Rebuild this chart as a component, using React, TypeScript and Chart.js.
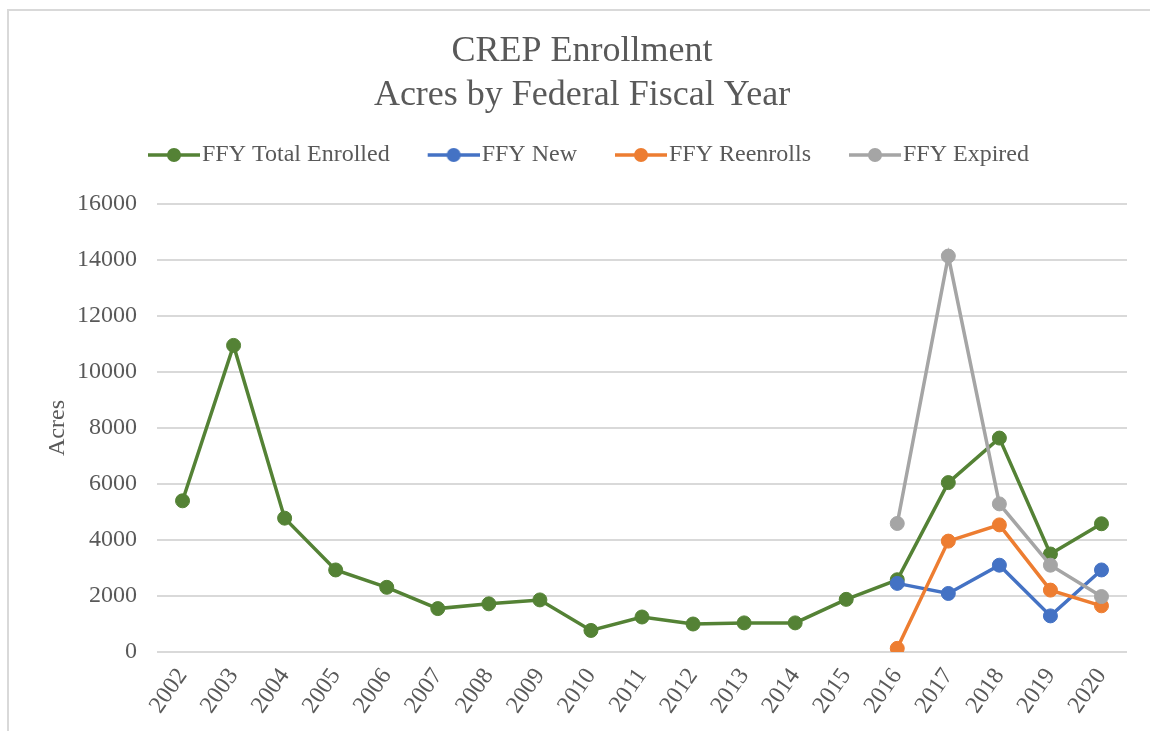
import React, { useEffect, useRef } from "react";
import { Chart, registerables } from "chart.js";

Chart.register(...registerables);

const years = [
  "2002", "2003", "2004", "2005", "2006", "2007", "2008", "2009", "2010",
  "2011", "2012", "2013", "2014", "2015", "2016", "2017", "2018", "2019", "2020",
];

const totalEnrolled = [5400, 10950, 4780, 2930, 2310, 1550, 1720, 1860, 770, 1250, 1000, 1040, 1040, 1880, 2580, 6050, 7640, 3500, 4580];
const newAcres = [null, null, null, null, null, null, null, null, null, null, null, null, null, null, 2450, 2090, 3100, 1290, 2930];
const reenrolls = [null, null, null, null, null, null, null, null, null, null, null, null, null, null, 130, 3960, 4540, 2210, 1650];
const expired = [null, null, null, null, null, null, null, null, null, null, null, null, null, null, 4590, 14140, 5290, 3100, 1980];

const seriesNames = ["FFY Total Enrolled", "FFY New", "FFY Reenrolls", "FFY Expired"];
const seriesColors = ["#548235", "#4472C4", "#ED7D31", "#A5A5A5"];

const yMin = 0;
const yMax = 16000;
const yStep = 2000;

const titleLines = ["CREP Enrollment", "Acres by Federal Fiscal Year"];
const yAxisTitle = "Acres";

const FONT = "'Liberation Serif', 'Times New Roman', serif";
const TEXT = "#595959";
const GRID = "#d9d9d9";

function makeLegendImage(color: string): HTMLCanvasElement {
  const c = document.createElement("canvas");
  c.width = 75;
  c.height = 18;
  const ctx = c.getContext("2d")!;
  ctx.strokeStyle = color;
  ctx.lineWidth = 3.5;
  ctx.beginPath();
  ctx.moveTo(23, 9);
  ctx.lineTo(75, 9);
  ctx.stroke();
  ctx.fillStyle = color;
  ctx.beginPath();
  ctx.arc(49, 9, 7, 0, Math.PI * 2);
  ctx.fill();
  return c;
}

export default function App() {
  const canvasRef = useRef<HTMLCanvasElement | null>(null);

  useEffect(() => {
    if (!canvasRef.current) return;
    const legendImages = seriesColors.map(makeLegendImage);
    const seriesData = [totalEnrolled, newAcres, reenrolls, expired];

    const chart = new Chart(canvasRef.current, {
      type: "line",
      data: {
        labels: years,
        datasets: seriesData.map((d, i) => ({
          label: seriesNames[i],
          data: d as (number | null)[],
          borderColor: seriesColors[i],
          backgroundColor: seriesColors[i],
          pointBackgroundColor: seriesColors[i],
          pointBorderColor: seriesColors[i],
          borderWidth: 3.5,
          pointRadius: 7,
          pointBorderWidth: 1,
          pointHoverRadius: 7,
          tension: 0,
          spanGaps: false,
          fill: false,
          order: 3 - i,
        })),
      },
      options: {
        animation: false,
        responsive: false,
        maintainAspectRatio: false,
        devicePixelRatio: 1,
        layout: { padding: { left: 14, right: 0, top: 0, bottom: 0 } },
        plugins: {
          title: {
            display: true,
            text: titleLines,
            color: TEXT,
            font: { family: FONT, size: 36, weight: "normal", lineHeight: 44 / 36 },
            padding: { top: 30, bottom: 0 },
          },
          legend: {
            display: true,
            position: "top",
            labels: {
              usePointStyle: true,
              pointStyleWidth: 55,
              padding: 25,
              color: TEXT,
              font: { family: FONT, size: 24 },
              sort: (a: any, b: any) => a.datasetIndex - b.datasetIndex,
              generateLabels: (ch: any) => {
                const items = Chart.defaults.plugins.legend.labels.generateLabels(ch);
                return items.map((it: any) => ({
                  ...it,
                  pointStyle: legendImages[it.datasetIndex],
                  fontColor: TEXT,
                }));
              },
            },
          },
          tooltip: { enabled: false },
        },
        scales: {
          x: {
            type: "category",
            position: "bottom",
            offset: true,
            grid: { display: false, drawTicks: false },
            border: { display: false },
            ticks: {
              color: TEXT,
              font: { family: FONT, size: 24 },
              minRotation: 55,
              maxRotation: 55,
              autoSkip: false,
              padding: 11,
              labelOffset: 0,
            },
            afterFit: (s: any) => {
              s.height = 79;
            },
          },
          xTop: {
            type: "category",
            position: "top",
            display: true,
            grid: { display: false, drawTicks: false },
            border: { display: false },
            ticks: { display: false },
            afterFit: (s: any) => {
              s.height = 27;
            },
          },
          y: {
            type: "linear",
            position: "left",
            min: yMin,
            max: yMax,
            grid: { color: GRID, lineWidth: 2, drawTicks: false },
            border: { display: false },
            ticks: {
              stepSize: yStep,
              color: TEXT,
              font: { family: FONT, size: 24 },
              padding: 20,
              callback: (v: any) => String(v),
            },
            title: {
              display: true,
              text: yAxisTitle,
              color: TEXT,
              font: { family: FONT, size: 24 },
              padding: { top: 29, bottom: 0 },
            },
            afterFit: (s: any) => {
              s.width = 143;
            },
          },
          yRight: {
            type: "linear",
            position: "right",
            display: true,
            grid: { display: false, drawTicks: false },
            border: { display: false },
            ticks: { display: false },
            afterFit: (s: any) => {
              s.width = 23;
            },
          },
        },
      } as any,
    });

    return () => {
      chart.destroy();
    };
  }, []);

  return (
    <div
      style={{
        position: "fixed",
        left: 0,
        top: 0,
        width: 1150,
        height: 731,
        background: "#ffffff",
        overflow: "hidden",
      }}
    >
      <div
        style={{
          position: "absolute",
          left: 7,
          top: 9,
          right: -10,
          bottom: -10,
          borderTop: `2px solid ${GRID}`,
          borderLeft: `2px solid ${GRID}`,
        }}
      />
      <canvas
        ref={canvasRef}
        width={1150}
        height={731}
        style={{ position: "absolute", left: 0, top: 0, width: 1150, height: 731, display: "block" }}
      />
    </div>
  );
}
